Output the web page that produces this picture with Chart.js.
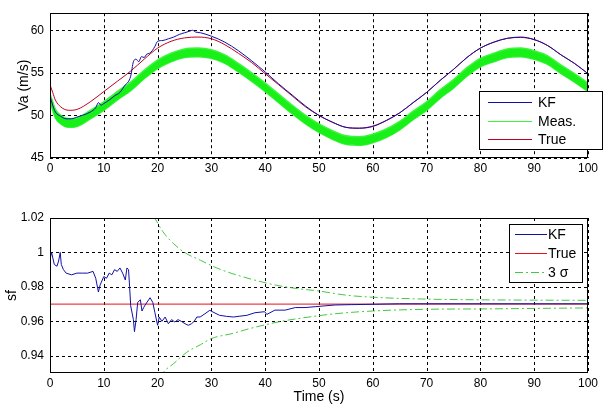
<!DOCTYPE html>
<html>
<head>
<meta charset="utf-8">
<script src="https://cdn.jsdelivr.net/npm/chart.js@4.4.1/dist/chart.umd.min.js"></script>
<style>
  body { margin: 0; background: #fff; }
  #wrap { position: relative; width: 607px; height: 411px; }
  #vaBox { position: absolute; left: 0; top: 0; }
  #sfBox { position: absolute; left: 0; top: 200px; }
</style>
</head>
<body>
<div id="wrap">
  <div id="vaBox"><canvas id="vaChart" width="607" height="190"></canvas></div>
  <div id="sfBox"><canvas id="sfChart" width="607" height="211"></canvas></div>
</div>
<script>
// top plot: airspeed (m/s)
const vaTime = [0, 0.5, 1, 2, 3.5, 5, 7.5, 10, 12.5, 15, 17.5, 20, 22.5, 25, 27.5, 30, 32.5, 35, 37.5, 40,
  42.5, 45, 47.5, 50, 52.5, 55, 57.5, 60, 62.5, 65, 67.5, 70, 72.5, 75, 77.5, 80, 82.5, 85, 87.5, 90, 92.5, 95, 97.5, 100];
const vaTrue = [53.6, 52.7, 51.8, 51.0, 50.6, 50.7, 51.6, 52.8, 54.0, 55.2, 56.6, 57.9, 58.7, 59.1, 59.2, 59.0, 58.3, 57.3, 56.2, 54.9,
  53.6, 52.3, 51.0, 50.0, 49.2, 48.6, 48.5, 48.75, 49.4, 50.3, 51.5, 52.7, 54.1, 55.4, 56.8, 57.9, 58.6, 59.05, 59.15, 58.9, 58.2, 57.1, 56.1, 54.9];
const vaMeasHi = [52.5, 51.6, 50.7, 50.0, 49.6, 49.7, 50.6, 51.6, 52.8, 53.9, 55.3, 56.5, 57.3, 57.8, 57.9, 57.7, 57.1, 56.1, 55.0, 53.8,
  52.5, 51.2, 50.0, 49.0, 48.2, 47.6, 47.5, 47.8, 48.4, 49.3, 50.5, 51.6, 53.0, 54.2, 55.6, 56.7, 57.3, 57.8, 57.9, 57.6, 57.0, 55.9, 54.9, 53.8];
const vaMeasLo = [51.5, 50.6, 49.7, 49.0, 48.6, 48.7, 49.6, 50.6, 51.8, 52.9, 54.3, 55.5, 56.3, 56.8, 56.9, 56.7, 56.1, 55.1, 54.0, 52.8,
  51.5, 50.2, 49.0, 48.0, 47.2, 46.6, 46.5, 46.8, 47.4, 48.3, 49.5, 50.6, 52.0, 53.2, 54.6, 55.7, 56.3, 56.8, 56.9, 56.6, 56.0, 54.9, 53.9, 52.8];
const kfTime = [0, 0.5, 1, 2, 3, 4, 5, 6, 7.5, 8.5, 9, 9.5, 10, 11, 12, 13, 14, 14.5, 15, 15.5, 16, 16.5, 17, 17.5, 18, 18.5, 19, 19.5, 20,
  21, 22, 23, 24, 25, 26, 26.5, 27, 28, 30, 32.5, 35, 37.5, 40, 42.5, 45, 47.5, 50,
  52.5, 55, 57.5, 60, 62.5, 65, 67.5, 70, 72.5, 75, 77.5, 80, 82.5, 85, 87.5, 90, 92.5, 95, 97.5, 100];
const kfVa = [52.3, 51.2, 50.4, 49.9, 49.6, 49.6, 49.8, 50.0, 50.4, 50.9, 51.5, 51.2, 51.4, 51.8, 52.3, 52.7, 53.6, 53.9, 54.6, 56.3, 56.6, 56.3, 56.9, 56.8, 57.2, 57.3, 57.6, 58.1, 58.7,
  58.8, 59.0, 59.2, 59.5, 59.7, 59.9, 60.0, 59.8, 59.7, 59.3, 58.6, 57.6, 56.4, 55.1, 53.7, 52.4, 51.1, 50.0,
  49.2, 48.6, 48.5, 48.7, 49.4, 50.3, 51.5, 52.7, 54.1, 55.4, 56.8, 57.9, 58.6, 59.05, 59.2, 58.9, 58.2, 57.1, 56.1, 54.9];
const vaTicks = [45, 50, 55, 60];
const timeTicks = [0, 10, 20, 30, 40, 50, 60, 70, 80, 90, 100];

// bottom plot: scale factor
const sfTime = [0, 0.3, 0.8, 1.3, 1.6, 1.9, 2.1, 2.5, 3, 4, 5, 6, 7, 8, 8.5, 9, 9.3, 10, 10.5, 11, 11.5, 12, 12.5, 13, 13.5, 14, 14.3, 14.6, 14.8,
  15, 15.5, 15.7, 16, 16.3, 16.8, 17.1, 17.4, 17.8, 18.6, 19.1, 19.5, 20, 20.3, 20.8, 21.4, 22, 22.6, 23.2, 23.8, 24.4, 25.1, 25.7, 26.3, 26.8,
  27.3, 27.9, 28.8, 29.7, 30.3, 31.5, 32.8, 34.1, 35.3, 36.6, 38.1, 39.9, 40.3, 41.8, 43.7, 45.6, 47.4, 49.3, 51.1, 53, 56.1, 60, 65, 100];
const sfKF = [0.996, 1.0, 0.993, 0.992, 0.995, 1.0, 0.993, 0.990, 0.988, 0.987, 0.988, 0.988, 0.988, 0.989, 0.985, 0.977, 0.981, 0.986, 0.985, 0.988, 0.987, 0.990, 0.989, 0.991, 0.988, 0.984, 0.991, 0.990, 0.980,
  0.969, 0.961, 0.954, 0.961, 0.971, 0.9725, 0.966, 0.968, 0.970, 0.9737, 0.971, 0.965, 0.9577, 0.9625, 0.960, 0.9625, 0.9586, 0.961, 0.9596, 0.961, 0.960, 0.9586, 0.9577, 0.9586, 0.960,
  0.9625, 0.9625, 0.9644, 0.9664, 0.9654, 0.9635, 0.9629, 0.9625, 0.963, 0.9635, 0.965, 0.9656, 0.964, 0.9665, 0.9665, 0.968, 0.968, 0.9685, 0.969, 0.9695, 0.9697, 0.9699, 0.9702, 0.9702];
const sfTrueTime = [0, 100];
const sfTrue = [0.97, 0.97];
const sigUpTime = [19.3, 21, 23, 25, 28, 31, 34, 38, 42, 46, 50, 55, 60, 70, 80, 90, 100];
const sigUp = [1.021, 1.012, 1.005, 1.0, 0.9954, 0.991, 0.9876, 0.984, 0.981, 0.979, 0.9776, 0.9752, 0.974, 0.9729, 0.9725, 0.9723, 0.9722];
const sigLoTime = [20.5, 21, 23, 25.4, 28, 30, 34, 37, 43, 47, 53, 60, 70, 80, 90, 100];
const sigLo = [0.927, 0.930, 0.9355, 0.942, 0.9465, 0.950, 0.953, 0.9557, 0.960, 0.962, 0.9644, 0.966, 0.967, 0.9672, 0.9675, 0.9678];
const sfTicks = [0.94, 0.96, 0.98, 1, 1.02];

const FONT = '"Liberation Sans", Arial, Helvetica, sans-serif';

function pts(xs, ys) {
    return xs.map((x, i) => ({ x: x, y: ys[i] }));
}

// dashed black grid under the data, like matlab's "grid on"
const gridPlugin = {
    id: 'dashGrid',
    beforeDatasetsDraw(chart) {
        const a = chart.chartArea;
        const ctx = chart.ctx;
        const sx = chart.scales.x, sy = chart.scales.y;
        ctx.save();
        ctx.strokeStyle = '#000';
        ctx.lineWidth = 1;
        ctx.setLineDash([3, 3]);
        ctx.beginPath();
        sx.ticks.forEach(t => {
            const px = Math.round(sx.getPixelForValue(t.value)) + 0.5;
            ctx.moveTo(px, a.top);
            ctx.lineTo(px, a.bottom);
        });
        sy.ticks.forEach(t => {
            const py = Math.round(sy.getPixelForValue(t.value)) + 0.5;
            ctx.moveTo(a.left, py);
            ctx.lineTo(a.right, py);
        });
        ctx.stroke();
        ctx.restore();
    }
};

// solid box round the plot area
const framePlugin = {
    id: 'frame',
    afterDraw(chart) {
        const a = chart.chartArea;
        const ctx = chart.ctx;
        ctx.save();
        ctx.strokeStyle = '#000';
        ctx.lineWidth = 1;
        ctx.strokeRect(Math.round(a.left) + 0.5, Math.round(a.top) + 0.5,
            Math.round(a.right - a.left) - 1, Math.round(a.bottom - a.top) - 1);
        ctx.restore();
    }
};

// legend box placed at a fixed spot in the figure
const boxLegend = {
    id: 'boxLegend',
    afterDraw(chart, args, opts) {
        const ctx = chart.ctx;
        ctx.save();
        ctx.fillStyle = '#fff';
        ctx.fillRect(opts.x, opts.y, opts.w, opts.h);
        ctx.strokeStyle = '#000';
        ctx.lineWidth = 1;
        ctx.strokeRect(opts.x + 0.5, opts.y + 0.5, opts.w, opts.h);
        ctx.font = '14px ' + FONT;
        ctx.textBaseline = 'middle';
        opts.items.forEach((idx, i) => {
            const ds = chart.data.datasets[idx];
            const y = opts.rowY[i] + 0.5;
            ctx.strokeStyle = ds.borderColor;
            ctx.setLineDash(ds.borderDash || []);
            ctx.beginPath();
            ctx.moveTo(opts.lineX0, y);
            ctx.lineTo(opts.lineX1, y);
            ctx.stroke();
            ctx.setLineDash([]);
            ctx.fillStyle = '#000';
            ctx.fillText(ds.label, opts.textX, y + 1);
        });
        ctx.restore();
    }
};

function xAxis(h, withTitle) {
    return {
        type: 'linear',
        min: 0,
        max: 100,
        afterBuildTicks: s => { s.ticks = timeTicks.map(v => ({ value: v })); },
        afterFit: s => { s.height = h; },
        ticks: { color: '#000', padding: 3, font: { family: FONT, size: 12 } },
        grid: { display: false, drawTicks: false },
        border: { display: false },
        title: {
            display: withTitle,
            text: 'Time (s)',
            color: '#000',
            font: { family: FONT, size: 14 },
            padding: { top: 0, bottom: 5.6 }
        }
    };
}

function yAxis(min, max, tickVals, label, titlePad) {
    return {
        type: 'linear',
        min: min,
        max: max,
        afterBuildTicks: s => { s.ticks = tickVals.map(v => ({ value: v })); },
        afterFit: s => { s.width = 50; },
        ticks: { color: '#000', padding: 6, font: { family: FONT, size: 12 }, callback: v => String(v) },
        grid: { display: false, drawTicks: false },
        border: { display: false },
        title: {
            display: true,
            text: label,
            color: '#000',
            font: { family: FONT, size: 14 },
            padding: { top: titlePad, bottom: 0 }
        }
    };
}

new Chart(document.getElementById('vaChart'), {
    type: 'line',
    data: {
        datasets: [
            {
                label: 'KF',
                data: pts(kfTime, kfVa),
                borderColor: '#1010a8',
                borderWidth: 1,
                cubicInterpolationMode: 'monotone'
            },
            {
                label: 'Meas.',
                data: pts(vaTime, vaMeasHi),
                borderColor: '#3cf53c',
                backgroundColor: '#18f018',
                borderWidth: 1.5,
                fill: '+1',
                cubicInterpolationMode: 'monotone'
            },
            {
                label: 'Meas. low',
                data: pts(vaTime, vaMeasLo),
                borderColor: '#3cf53c',
                borderWidth: 1.5,
                fill: false,
                cubicInterpolationMode: 'monotone'
            },
            {
                label: 'True',
                data: pts(vaTime, vaTrue),
                borderColor: '#c00020',
                borderWidth: 1,
                cubicInterpolationMode: 'monotone'
            }
        ]
    },
    options: {
        responsive: false,
        animation: false,
        layout: { padding: { top: 4, right: 19, left: 0, bottom: 0 } },
        elements: { point: { radius: 0 }, line: { tension: 0 } },
        plugins: {
            legend: { display: false },
            tooltip: { enabled: false },
            boxLegend: {
                x: 479, y: 91, w: 123, h: 58,
                items: [0, 1, 3],
                rowY: [102, 121, 139],
                lineX0: 488, lineX1: 532, textX: 538
            }
        },
        scales: {
            x: xAxis(32, false),
            y: yAxis(45, 62, vaTicks, 'Va (m/s)', 15.6)
        }
    },
    plugins: [gridPlugin, framePlugin, boxLegend]
});

new Chart(document.getElementById('sfChart'), {
    type: 'line',
    data: {
        datasets: [
            {
                label: 'KF',
                data: pts(sfTime, sfKF),
                borderColor: '#1010a8',
                borderWidth: 1
            },
            {
                label: 'True',
                data: pts(sfTrueTime, sfTrue),
                borderColor: '#e8101c',
                borderWidth: 1
            },
            {
                label: '3 σ',
                data: pts(sigUpTime, sigUp),
                borderColor: '#44c844',
                borderWidth: 1,
                borderDash: [8, 3, 2, 3],
                cubicInterpolationMode: 'monotone'
            },
            {
                label: '3 σ low',
                data: pts(sigLoTime, sigLo),
                borderColor: '#44c844',
                borderWidth: 1,
                borderDash: [8, 3, 2, 3],
                cubicInterpolationMode: 'monotone'
            }
        ]
    },
    options: {
        responsive: false,
        animation: false,
        layout: { padding: { top: 18, right: 19, left: 0, bottom: 0 } },
        elements: { point: { radius: 0 }, line: { tension: 0 } },
        plugins: {
            legend: { display: false },
            tooltip: { enabled: false },
            boxLegend: {
                x: 509, y: 24, w: 73, h: 58,
                items: [0, 1, 2],
                rowY: [34, 53, 72],
                lineX0: 515, lineX1: 547, textX: 548
            }
        },
        scales: {
            x: xAxis(38, true),
            y: yAxis(0.93, 1.02, sfTicks, 'sf', 4)
        }
    },
    plugins: [gridPlugin, framePlugin, boxLegend]
});
</script>
</body>
</html>
